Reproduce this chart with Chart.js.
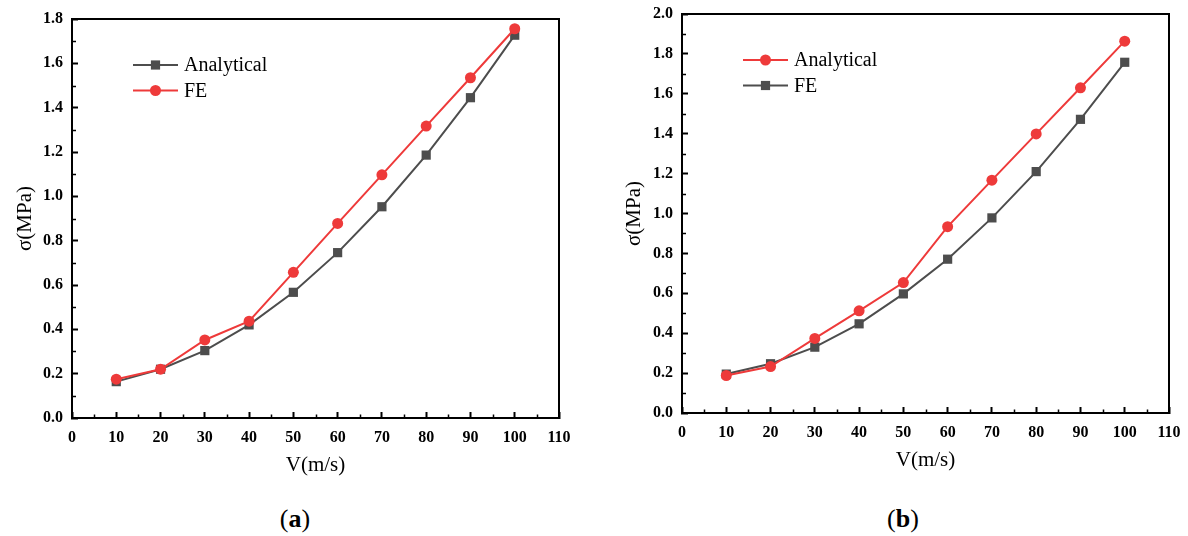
<!DOCTYPE html>
<html>
<head>
<meta charset="utf-8">
<script src="https://cdn.jsdelivr.net/npm/chart.js@4/dist/chart.umd.min.js"></script>
<style>
  html, body { margin: 0; padding: 0; background: #fff; }
  body { width: 1188px; height: 536px; position: relative; overflow: hidden; }
  .box { position: absolute; }
  .cap { position: absolute; top: 504px; width: 60px; text-align: center;
         font-family: "Liberation Serif", serif; font-size: 26px; color: #000; }
  .cap b { font-weight: bold; }
</style>
</head>
<body>
<div class="box" style="left:0; top:-11px; width:594px; height:501px"><canvas id="chartA"></canvas></div>
<div class="box" style="left:594px; top:-16px; width:610px; height:506px"><canvas id="chartB"></canvas></div>
<div class="cap" style="left:265px">(<b>a</b>)</div>
<div class="cap" style="left:873px">(<b>b</b>)</div>
<script>
// ---- data ----
const speeds = [10, 20, 30, 40, 50, 60, 70, 80, 90, 100];
const aAnalytical = [0.164, 0.220, 0.304, 0.420, 0.567, 0.746, 0.953, 1.186, 1.445, 1.727];
const aFE         = [0.175, 0.220, 0.352, 0.437, 0.657, 0.878, 1.097, 1.317, 1.535, 1.756];
const bAnalytical = [0.188, 0.233, 0.374, 0.512, 0.654, 0.934, 1.167, 1.399, 1.630, 1.864];
const bFE         = [0.195, 0.247, 0.330, 0.447, 0.597, 0.771, 0.978, 1.210, 1.472, 1.758];
const seriesNames = ['Analytical', 'FE'];
const xTitle = 'V(m/s)';
const yTitle = 'σ(MPa)';
const xMax = 110, xStep = 10;
const aYMax = 1.8, bYMax = 2.0, yStep = 0.2;

const RED = '#ee3a3a';
const GRAY = '#4d4d4d';
const SERIF = '"Liberation Serif", "Times New Roman", serif';

function pts(vals) { return speeds.map((s, i) => ({ x: s, y: vals[i] })); }

function ds(label, vals, kind, order) {
  const red = kind === 'red';
  return {
    label: label,
    data: pts(vals),
    borderColor: red ? RED : GRAY,
    backgroundColor: red ? RED : GRAY,
    pointStyle: red ? 'circle' : 'rect',
    pointRadius: red ? 5.5 : 6.5,
    pointHoverRadius: red ? 5.5 : 6.5,
    pointBorderWidth: 0,
    borderWidth: 2,
    tension: 0,
    order: order
  };
}

// frame, minor ticks and in-plot legend
const decor = {
  id: 'decor',
  afterDraw(chart) {
    const ctx = chart.ctx;
    const a = chart.chartArea;
    const xs = chart.scales.x, ys = chart.scales.y;
    ctx.save();
    ctx.strokeStyle = '#000';
    // minor ticks
    ctx.lineWidth = 1.5;
    ctx.beginPath();
    for (let v = xStep / 2; v < xs.max; v += xStep) {
      const px = Math.round(xs.getPixelForValue(v)) + 0.5;
      ctx.moveTo(px, a.bottom);
      ctx.lineTo(px, a.bottom - 3.5);
    }
    for (let v = yStep / 2; v < ys.max; v += yStep) {
      const py = Math.round(ys.getPixelForValue(v)) + 0.5;
      ctx.moveTo(a.left, py);
      ctx.lineTo(a.left + 4, py);
    }
    ctx.stroke();
    // frame
    ctx.lineWidth = 2;
    ctx.strokeRect(a.left, a.top, a.right - a.left, a.bottom - a.top);
    // legend
    const lx = a.left + 61, ly = a.top + 46, gap = 25.5;
    const items = chart.options.plugins.decor.items;
    items.forEach((idx, row) => {
      const d = chart.data.datasets[idx];
      const y = ly + row * gap;
      ctx.strokeStyle = d.borderColor;
      ctx.lineWidth = 2;
      ctx.beginPath();
      ctx.moveTo(lx, y);
      ctx.lineTo(lx + 45, y);
      ctx.stroke();
      ctx.fillStyle = d.backgroundColor;
      const cx = lx + 22.5;
      if (d.pointStyle === 'circle') {
        ctx.beginPath();
        ctx.arc(cx, y, d.pointRadius, 0, Math.PI * 2);
        ctx.fill();
      } else {
        const s = d.pointRadius * Math.SQRT1_2;
        ctx.fillRect(cx - s, y - s, 2 * s, 2 * s);
      }
      ctx.fillStyle = '#000';
      ctx.font = '20px ' + SERIF;
      ctx.textBaseline = 'middle';
      ctx.textAlign = 'left';
      ctx.fillText(d.label, lx + 51, y + 1);
    });
    ctx.restore();
  }
};

function makeChart(id, datasets, yMax, legendItems, pad, yWidth, yTitlePad) {
  return new Chart(document.getElementById(id), {
    type: 'line',
    data: { datasets: datasets },
    plugins: [decor],
    options: {
      responsive: true,
      maintainAspectRatio: false,
      animation: false,
      events: [],
      layout: { padding: pad },
      plugins: {
        legend: { display: false },
        tooltip: { enabled: false },
        decor: { items: legendItems }
      },
      scales: {
        x: {
          type: 'linear',
          min: 0, max: xMax,
          afterFit(s) { s.height = 60; },
          border: { display: true, color: '#000', width: 2 },
          grid: { display: true, drawOnChartArea: false, drawTicks: true, tickLength: -6, tickWidth: 2, tickColor: '#000' },
          ticks: {
            stepSize: xStep, padding: 16, color: '#000', maxRotation: 0,
            font: { family: SERIF, size: 16, weight: 'bold' },
            callback: v => String(v)
          },
          title: { display: true, text: xTitle, color: '#000', padding: { top: 0, bottom: 0 },
                   font: { family: SERIF, size: 21 } }
        },
        y: {
          type: 'linear',
          min: 0, max: yMax,
          afterFit(s) { s.width = yWidth; },
          border: { display: true, color: '#000', width: 2 },
          grid: { display: true, drawOnChartArea: false, drawTicks: true, tickLength: -6, tickWidth: 2, tickColor: '#000' },
          ticks: {
            stepSize: yStep, padding: 15, color: '#000',
            font: { family: SERIF, size: 16, weight: 'bold' },
            callback: v => Number(v).toFixed(1)
          },
          title: { display: true, text: yTitle, color: '#000', padding: { top: yTitlePad, bottom: 0 },
                   font: { family: SERIF, size: 21 } }
        }
      }
    }
  });
}

makeChart('chartA',
  [ds(seriesNames[0], aAnalytical, 'gray', 1), ds(seriesNames[1], aFE, 'red', 0)],
  aYMax, [0, 1], { left: 0, right: 35, top: 30, bottom: 12 }, 72, 13);

makeChart('chartB',
  [ds(seriesNames[0], bAnalytical, 'red', 0), ds(seriesNames[1], bFE, 'gray', 1)],
  bYMax, [0, 1], { left: 0, right: 35, top: 30, bottom: 17 }, 88, 28);
</script>
</body>
</html>
